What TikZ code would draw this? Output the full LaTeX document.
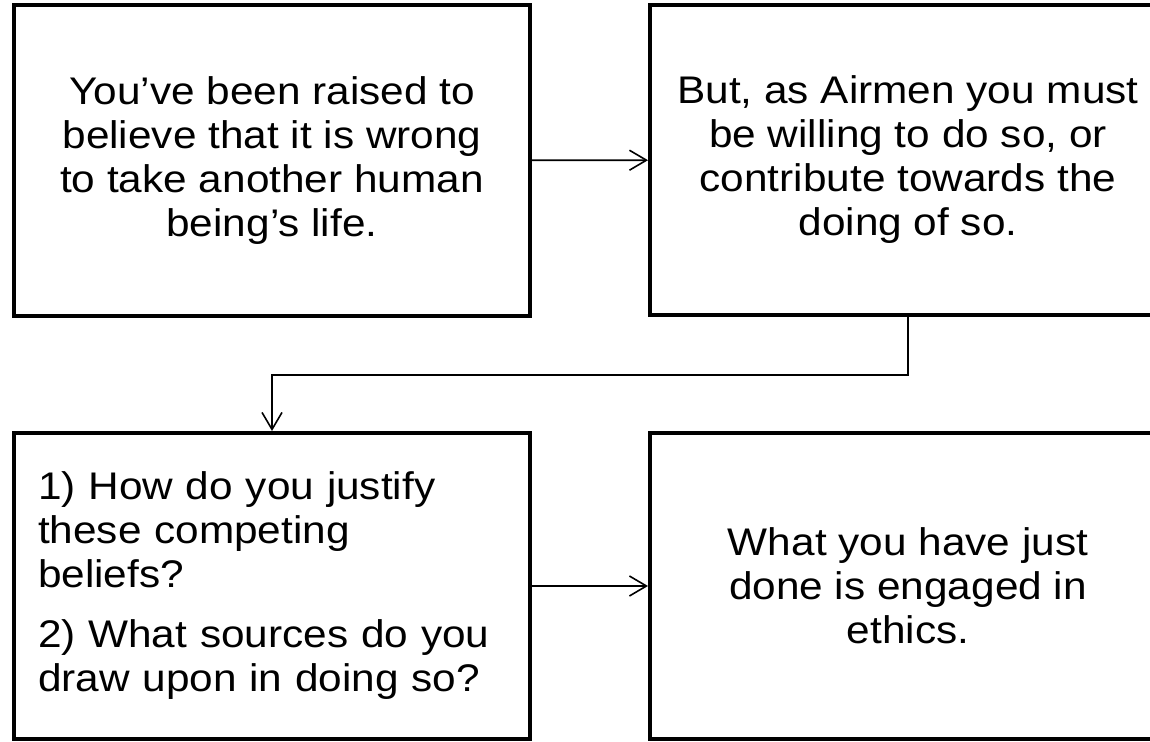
\documentclass[tikz,border=0pt]{standalone}
\usepackage{fontspec}
\setmainfont{Liberation Sans}[FakeStretch=1.1]
\usepackage{tikz}
\usetikzlibrary{arrows.meta}

\begin{document}
\begin{tikzpicture}[x=1pt,y=-1pt,
  box/.style={rectangle,draw=black,line width=4pt,minimum width=516pt,inner sep=0pt},
  link/.style={line width=1.6pt,-{Straight Barb[length=17pt,width=20pt]}}]
\useasboundingbox (0,0) rectangle (1150,741);
\clip (0,0) rectangle (1150,741);
\fontsize{38.5}{44}\selectfont
%Boxes
\node at (272,160.5) [box,minimum height=311pt,align=center] (Raised) {You’ve been raised to\\believe that it is wrong\\to take another human\\being’s life.};
\node at (908,160) [box,minimum height=310pt,align=center] (Airmen) {But, as Airmen you must\\be willing to do so, or\\contribute towards the\\doing of so.};
\node at (272,586) [box,minimum height=306pt,text width=468pt,align=left] (Justify) {1) How do you justify\\these competing\\beliefs?\\[16pt]2) What sources do you\\draw upon in doing so?};
\node at (908,586) [box,minimum height=306pt,align=center] (Ethics) {What you have just\\done is engaged in\\ethics.};
%Connections
\draw [link] (Raised) -- (Airmen);
\draw [link] (Airmen.south) -- ++(0,58) -| (Justify.north);
\draw [link] (Justify) -- (Ethics);
\end{tikzpicture}
\end{document}
